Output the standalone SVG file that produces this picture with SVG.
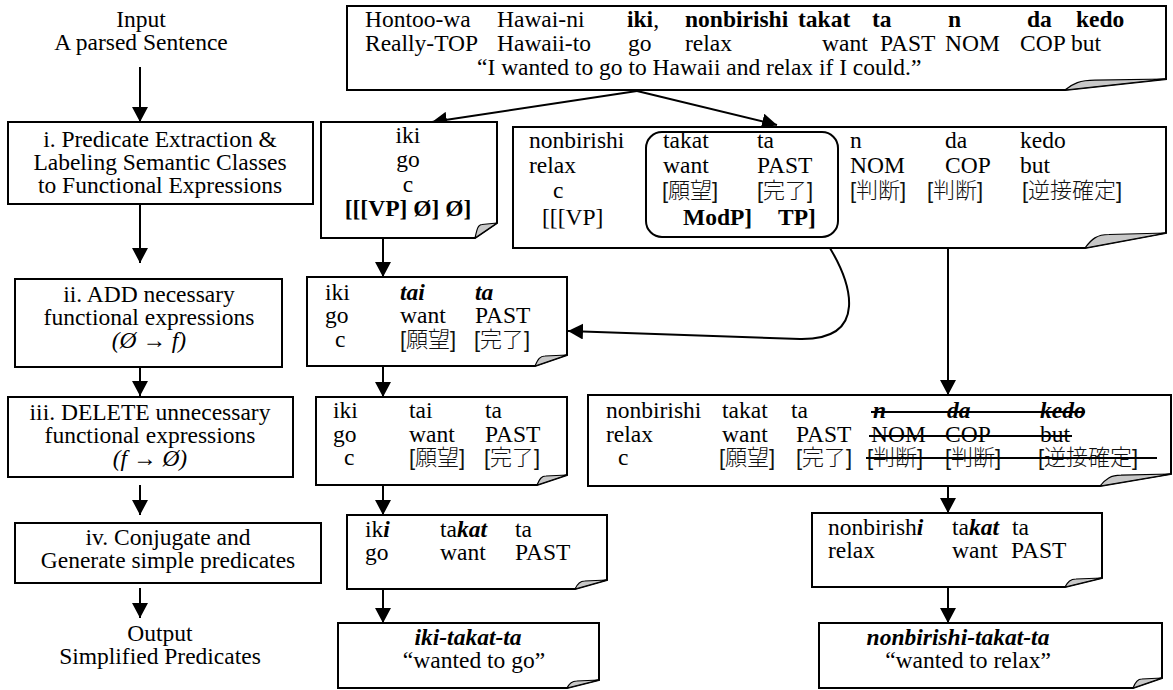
<svg xmlns="http://www.w3.org/2000/svg" width="1173" height="690" viewBox="0 0 1173 690">
<style>
.t{font-family:"Liberation Serif","Times New Roman",serif;font-size:23.5px;fill:#000}
.m{text-anchor:middle}
.b{font-weight:bold}
.i{font-style:italic}
.c{font-family:"Liberation Sans","Noto Sans CJK JP",sans-serif;font-size:22px;font-weight:300;fill:#111}
.box{fill:#fff;stroke:#000;stroke-width:2}
.curl{fill:#c8c8c8;stroke:#000;stroke-width:1.2;stroke-linejoin:round}
.ln{fill:none;stroke:#000;stroke-width:2}
.st{stroke:#000;stroke-width:2}
</style>
<defs>
<marker id="ah" markerUnits="userSpaceOnUse" markerWidth="16" markerHeight="16" viewBox="0 0 16 16" refX="15" refY="8" orient="auto">
<path d="M0,0 L15,8 L0,16 Z" fill="#000"/>
</marker>
</defs>
<rect width="1173" height="690" fill="#fff"/>

<g id="connectors">
<path class="ln" d="M140,67 V122" marker-end="url(#ah)"/>
<path class="ln" d="M140,204 V263" marker-end="url(#ah)"/>
<path class="ln" d="M140,367 V396" marker-end="url(#ah)"/>
<path class="ln" d="M140,485 V515" marker-end="url(#ah)"/>
<path class="ln" d="M140,588 V618" marker-end="url(#ah)"/>
<path class="ln" d="M637,91 L432,122" marker-end="url(#ah)"/>
<path class="ln" d="M637,91 L777,125" marker-end="url(#ah)"/>
<path class="ln" d="M383,238 V277" marker-end="url(#ah)"/>
<path class="ln" d="M383,366 V397" marker-end="url(#ah)"/>
<path class="ln" d="M383,485 V515" marker-end="url(#ah)"/>
<path class="ln" d="M383,589 V623" marker-end="url(#ah)"/>
<path class="ln" d="M948,248 V395" marker-end="url(#ah)"/>
<path class="ln" d="M948,486 V513" marker-end="url(#ah)"/>
<path class="ln" d="M948,587 V623" marker-end="url(#ah)"/>
<path class="ln" d="M823,237 C855,285 868,340 800,339 L568,331" marker-end="url(#ah)"/>
</g>

<g id="input-label">
<text class="t m" x="141" y="27">Input</text>
<text class="t m" x="141" y="50">A parsed Sentence</text>
</g>

<g id="step-i">
<rect class="box" x="8" y="122" width="305" height="82"/>
<text class="t m" x="160" y="147">i. Predicate Extraction &amp;</text>
<text class="t m" x="160" y="170">Labeling Semantic Classes</text>
<text class="t m" x="160" y="193">to Functional Expressions</text>
</g>

<g id="step-ii">
<rect class="box" x="15" y="279" width="267" height="88"/>
<text class="t m" x="149" y="302">ii. ADD necessary</text>
<text class="t m" x="149" y="325">functional expressions</text>
<text class="t m i" x="149" y="348">(Ø → f)</text>
</g>

<g id="step-iii">
<rect class="box" x="8" y="397" width="285" height="80"/>
<text class="t m" x="150" y="420">iii. DELETE unnecessary</text>
<text class="t m" x="150" y="443">functional expressions</text>
<text class="t m i" x="150" y="466">(f → Ø)</text>
</g>

<g id="step-iv">
<rect class="box" x="15" y="523" width="306" height="60"/>
<text class="t m" x="168" y="545">iv. Conjugate and</text>
<text class="t m" x="168" y="568">Generate simple predicates</text>
</g>

<g id="output-label">
<text class="t m" x="160" y="641">Output</text>
<text class="t m" x="160" y="664">Simplified Predicates</text>
</g>

<g id="sentence">
<path class="box" d="M347,6 H1166 V79 L1065,90 H347 Z"/>
<path class="curl" d="M1065,90 C1073,83.4 1080,80.1 1095,80.1 L1166,79 Z"/>
<text class="t" y="27"><tspan x="365">Hontoo-wa</tspan><tspan x="497">Hawai-ni</tspan><tspan x="627" class="b">iki</tspan><tspan>,</tspan><tspan x="685" class="b">nonbirishi</tspan><tspan x="798" class="b">takat</tspan><tspan x="872" class="b">ta</tspan><tspan x="948" class="b">n</tspan><tspan x="1027" class="b">da</tspan><tspan x="1076" class="b">kedo</tspan></text>
<text class="t" y="51"><tspan x="365">Really-TOP</tspan><tspan x="497">Hawaii-to</tspan><tspan x="628">go</tspan><tspan x="685">relax</tspan><tspan x="822">want</tspan><tspan x="880">PAST</tspan><tspan x="945">NOM</tspan><tspan x="1020">COP</tspan><tspan x="1071">but</tspan></text>
<text class="t" x="477" y="75">“I wanted to go to Hawaii and relax if I could.”</text>
</g>

<g id="extract-iki">
<path class="box" d="M321,122 H497 V223 L475,238 H321 Z"/>
<path class="curl" d="M475,238 C477,229 478,224.5 482,224.5 L497,223 Z"/>
<text class="t m" x="408" y="143">iki</text>
<text class="t m" x="408" y="167">go</text>
<text class="t m" x="408" y="192">c</text>
<text class="t m b" x="408" y="216">[[[VP] Ø] Ø]</text>
</g>

<g id="extract-nonbirishi">
<path class="box" d="M513,127 H1166 V233 L1085,248 H513 Z"/>
<path class="curl" d="M1085,248 C1091.5,239 1097,234.5 1109,234.5 L1166,233 Z"/>
<rect x="646" y="132" width="192" height="105" rx="16" ry="16" class="ln"/>
<text class="t" y="148"><tspan x="529">nonbirishi</tspan><tspan x="663">takat</tspan><tspan x="757">ta</tspan><tspan x="850">n</tspan><tspan x="945">da</tspan><tspan x="1020">kedo</tspan></text>
<text class="t" y="173"><tspan x="529">relax</tspan><tspan x="663">want</tspan><tspan x="757">PAST</tspan><tspan x="850">NOM</tspan><tspan x="945">COP</tspan><tspan x="1020">but</tspan></text>
<text class="t" x="553" y="198">c</text>
<text class="c" y="198"><tspan x="662">[願望]</tspan><tspan x="757">[完了]</tspan><tspan x="850">[判断]</tspan><tspan x="927">[判断]</tspan><tspan x="1022">[逆接確定]</tspan></text>
<text class="t" x="542" y="225">[[[VP]</text>
<text class="t b" y="225"><tspan x="683">ModP]</tspan><tspan x="778">TP]</tspan></text>
</g>

<g id="add-iki">
<path class="box" d="M307,277 H567 V355 L535,366 H307 Z"/>
<path class="curl" d="M535,366 C538,359 540,356 545,356 L567,355 Z"/>
<text class="t" y="300"><tspan x="325">iki</tspan><tspan x="400" class="b i">tai</tspan><tspan x="475" class="b i">ta</tspan></text>
<text class="t" y="323"><tspan x="325">go</tspan><tspan x="400">want</tspan><tspan x="475">PAST</tspan></text>
<text class="t" x="335" y="347">c</text>
<text class="c" y="347"><tspan x="400">[願望]</tspan><tspan x="474">[完了]</tspan></text>
</g>

<g id="delete-iki">
<path class="box" d="M316,397 H567 V475 L537,485 H316 Z"/>
<path class="curl" d="M537,485 C539.5,479 541.5,476 546,476 L567,475 Z"/>
<text class="t" y="418"><tspan x="333">iki</tspan><tspan x="409">tai</tspan><tspan x="485">ta</tspan></text>
<text class="t" y="442"><tspan x="333">go</tspan><tspan x="409">want</tspan><tspan x="485">PAST</tspan></text>
<text class="t" x="344" y="465">c</text>
<text class="c" y="465"><tspan x="409">[願望]</tspan><tspan x="484">[完了]</tspan></text>
</g>

<g id="delete-nonbirishi">
<path class="box" d="M588,395 H1171 V474 L1100,486 H588 Z"/>
<path class="curl" d="M1100,486 C1105.7,478.8 1110.6,475.2 1121,475.2 L1171,474 Z"/>
<text class="t" y="418"><tspan x="606">nonbirishi</tspan><tspan x="722">takat</tspan><tspan x="791">ta</tspan><tspan x="873" class="b i">n</tspan><tspan x="947" class="b i">da</tspan><tspan x="1040" class="b i">kedo</tspan></text>
<text class="t" y="442"><tspan x="606">relax</tspan><tspan x="722">want</tspan><tspan x="796">PAST</tspan><tspan x="871">NOM</tspan><tspan x="945">COP</tspan><tspan x="1040">but</tspan></text>
<text class="t" x="618" y="465">c</text>
<text class="c" y="465"><tspan x="719">[願望]</tspan><tspan x="796">[完了]</tspan><tspan x="867">[判断]</tspan><tspan x="945">[判断]</tspan><tspan x="1038">[逆接確定]</tspan></text>
<line class="st" x1="871" y1="412" x2="1085" y2="412"/>
<line class="st" x1="869" y1="436" x2="1072" y2="436"/>
<line class="st" x1="866" y1="458" x2="1157" y2="458"/>
</g>

<g id="conj-iki">
<path class="box" d="M347,515 H607 V580 L575,589 H347 Z"/>
<path class="curl" d="M575,589 C577.5,583.6 579.8,581 584.6,581 L607,580 Z"/>
<text class="t" y="537"><tspan x="365">ik</tspan><tspan class="b i">i</tspan><tspan x="440">ta</tspan><tspan class="b i">kat</tspan><tspan x="515">ta</tspan></text>
<text class="t" y="560"><tspan x="365">go</tspan><tspan x="440">want</tspan><tspan x="515">PAST</tspan></text>
</g>

<g id="conj-nonbirishi">
<path class="box" d="M812,513 H1102 V578 L1065,587 H812 Z"/>
<path class="curl" d="M1065,587 C1068,581.6 1070.5,579 1076,579 L1102,578 Z"/>
<text class="t" y="535"><tspan x="828">nonbirish</tspan><tspan class="b i">i</tspan><tspan x="952">ta</tspan><tspan class="b i">kat</tspan><tspan x="1012">ta</tspan></text>
<text class="t" y="558"><tspan x="828">relax</tspan><tspan x="952">want</tspan><tspan x="1011">PAST</tspan></text>
</g>

<g id="out-iki">
<path class="box" d="M338,623 H599 V680 L567,688 H338 Z"/>
<path class="curl" d="M567,688 C569.5,683 571.8,681 576.6,681 L599,680 Z"/>
<text class="t m b i" x="468" y="645">iki-takat-ta</text>
<text class="t m" x="474" y="668">“wanted to go”</text>
</g>

<g id="out-nonbirishi">
<path class="box" d="M819,623 H1162 V678 L1133,688 H819 Z"/>
<path class="curl" d="M1133,688 C1135.3,682 1137.4,679 1141.7,679 L1162,678 Z"/>
<text class="t m b i" x="958" y="645">nonbirishi-takat-ta</text>
<text class="t m" x="968" y="668">“wanted to relax”</text>
</g>
</svg>
